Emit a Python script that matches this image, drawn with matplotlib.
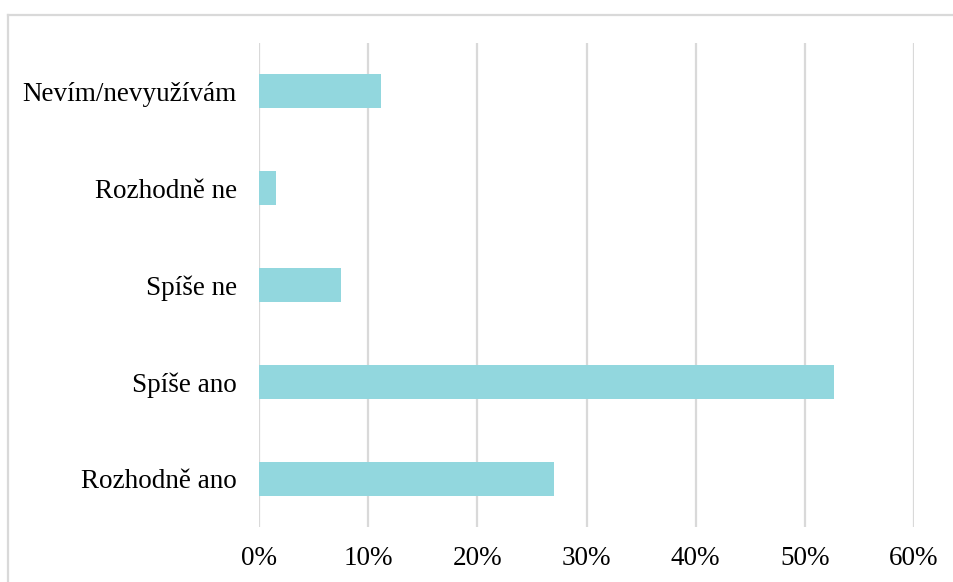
import matplotlib
matplotlib.use("Agg")
import matplotlib.pyplot as plt
from matplotlib.lines import Line2D
from matplotlib.ticker import PercentFormatter

categories = ["Rozhodně ano", "Spíše ano", "Spíše ne", "Rozhodně ne", "Nevím/nevyužívám"]
values = [0.270, 0.527, 0.075, 0.016, 0.112]
xticks = [0, 0.1, 0.2, 0.3, 0.4, 0.5, 0.6]

plt.rcParams['font.family'] = ['Liberation Serif', 'DejaVu Serif']

W, H = 954, 582
fig = plt.figure(figsize=(W/100, H/100), dpi=100)
ax = fig.add_axes([259/W, 1-527/H, (914-259)/W, (527-43)/H])

# outer chart frame: only top and left edges are inside the image
fx, fy = 8.5/W, 1-14.5/H
fig.lines.append(Line2D([fx, 1.0], [fy, fy], transform=fig.transFigure, color="#d9d9d9", linewidth=1.6))
fig.lines.append(Line2D([fx, fx], [0.0, fy], transform=fig.transFigure, color="#d9d9d9", linewidth=1.6))

ax.barh(range(len(categories)), values, height=0.35, color="#92d7de", zorder=3)
ax.set_yticks(range(len(categories)))
ax.set_yticklabels(categories, fontsize=19.5)
ax.set_ylim(-0.5, len(categories)-0.5)
ax.set_xlim(0, 0.6)
ax.set_xticks(xticks)
ax.xaxis.set_major_formatter(PercentFormatter(1.0, decimals=0))
ax.tick_params(axis='x', labelsize=19.5, length=0, pad=14)
ax.tick_params(axis='y', length=0, pad=16)
ax.grid(axis='x', color="#d9d9d9", linewidth=1.6, zorder=0)
for s in ax.spines.values():
    s.set_visible(False)

fig.savefig("out.png", dpi=100)
